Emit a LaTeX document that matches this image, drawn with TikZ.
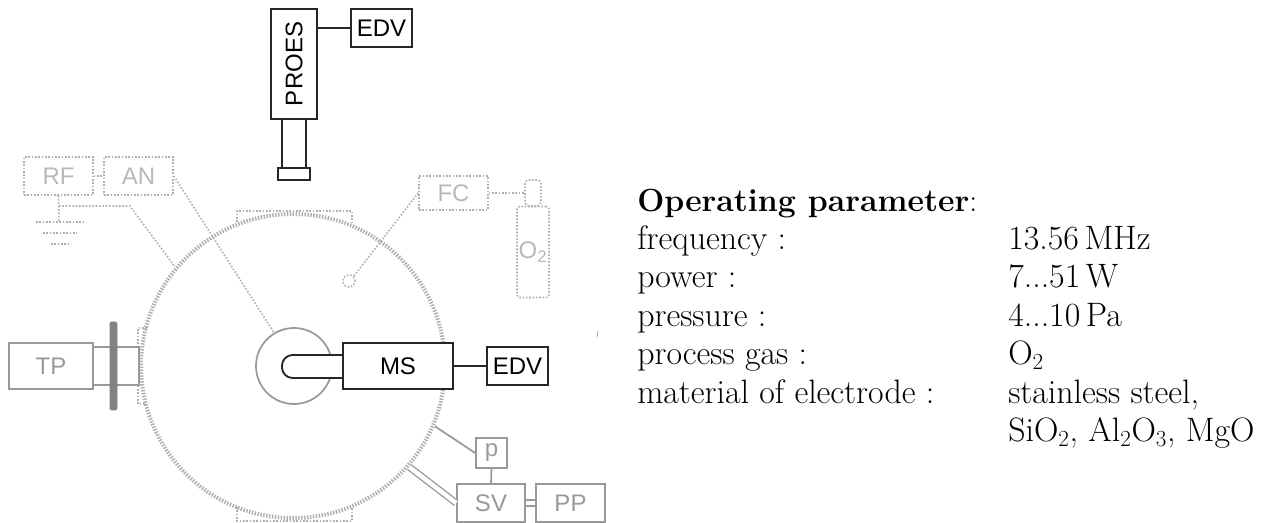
\documentclass[tikz,border=0pt]{standalone}
\usepackage{fontspec}
\setsansfont{Liberation Sans}
\def\px{0.75pt}
\definecolor{dotgray}{HTML}{B0B0B0}
\definecolor{midgray}{HTML}{999999}
\tikzset{
  label font/.style={font=\sffamily\fontsize{18}{21}\selectfont},
  dotbox/.style={draw=dotgray,line width=1.2pt,dash pattern=on 1.2pt off 1.3pt,text=dotgray!90!white,label font,inner sep=0pt},
  dotline/.style={draw=dotgray,line width=1.2pt,dash pattern=on 1.2pt off 1.3pt},
  graybox/.style={draw=midgray,line width=1.3pt,text=midgray,fill=white,label font,inner sep=0pt},
  grayline/.style={draw=midgray,line width=1.3pt},
  blackbox/.style={draw=black!85,line width=1.4pt,text=black,fill=white,label font,inner sep=0pt},
  blackline/.style={draw=black!85,line width=1.4pt},
  wall/.style={draw=dotgray,line width=3pt,dash pattern=on 1.1pt off 1.1pt},
  partext/.style={anchor=base west,inner sep=0pt,font=\fontsize{25.4}{30}\selectfont},
}
\begin{document}
\begin{tikzpicture}[x=\px,y=-\px]
\useasboundingbox (0,0) rectangle (1274,523);
% chamber
\node[circle,wall,minimum size=304*\px,inner sep=0pt] (chamber) at (293,366) {};
\draw[dotline,line width=1.8pt] (237,222) |- (352,211) -- (352,225);
\draw[dotline,line width=1.8pt] (237,507) |- (352,521) -- (352,507);
\draw[dotline,line width=1.8pt] (147,328) -| (138,404) -- (146,404);
\node[circle,grayline,fill=white,minimum size=76*\px,inner sep=0pt] (sample) at (294,366) {};
% pumps
\node[graybox,minimum width=84*\px,minimum height=46*\px] (TP) at (51,366) {TP};
\node[graybox,minimum width=46*\px,minimum height=38*\px] (pipe) at (116,366) {};
\node[draw=midgray!85!black,fill=midgray!85!black,rounded corners=1pt,minimum width=7*\px,minimum height=88*\px,inner sep=0pt] (plate) at (113.500,366) {};
\node[graybox,minimum width=31*\px,minimum height=30*\px] (p) at (491.500,453) {p};
\node[graybox,minimum width=68*\px,minimum height=38*\px] (SV) at (491,503) {SV};
\node[graybox,minimum width=69*\px,minimum height=38*\px] (PP) at (570.500,503) {PP};
\draw[grayline] (chamber.-23.5) -- (p.west);
\draw[grayline] (p.south) -- (SV.north);
\draw[grayline,double=white,double distance=3.4pt,line width=1pt] (chamber.-41) -- (SV.west);
\draw[grayline,double=white,double distance=3.4pt,line width=1pt] (SV.east) -- (PP.west);
% rf part
\node[dotbox,minimum width=69*\px,minimum height=38*\px] (RF) at (58.500,176) {RF};
\node[dotbox,minimum width=69*\px,minimum height=38*\px] (AN) at (138.500,176) {AN};
\coordinate (RFbend) at (59,206);
\coordinate (RFknee) at (130,206);
\coordinate (GNDa) at (59,222);
\draw[dotline] (RF) -- (AN);
\draw[dotline] (RF.south) -- (GNDa);
\draw[dotline] (RFbend) -- (RFknee) -- (chamber.140.5);
\draw[dotline] (36,222) -- (84,222);
\draw[dotline] (43,233) -- (77,233);
\draw[dotline] (51,244) -- (69,244);
\draw[dotline] (AN.east) -- (sample.121);
% gas feed
\node[dotbox,minimum width=69*\px,minimum height=34*\px] (FC) at (453.500,193) {FC};
\node[circle,dotline,minimum size=12*\px,inner sep=0pt] (inlet) at (349,281) {};
\node[dotbox,rounded corners=2pt,minimum width=32*\px,minimum height=91*\px] (O2) at (533,252) {O\textsubscript{2}};
\node[dotbox,rounded corners=3pt,minimum width=16*\px,minimum height=26*\px] (valve) at (533,193) {};
\draw[dotline] (FC.west) -- (inlet.north east);
\draw[dotline] (FC.east) -- (valve.west);
% mass spectrometer
\draw[blackline,fill=white,rounded corners=8pt] (343,355) -- (282,355) -- (282,378) -- (343,378);
\node[blackbox,minimum width=110*\px,minimum height=46*\px] (MS) at (398,366) {MS};
\node[blackbox,minimum width=61*\px,minimum height=38*\px] (EDVa) at (517.500,366) {EDV};
\draw[blackline] (MS.east) -- (EDVa.west);
% optical emission
\node[blackbox,minimum width=46*\px,minimum height=110*\px] (PROES) at (294,64) {};
\node[label font,rotate=90,inner sep=0pt] (PROEStext) at (294,64) {PROES};
\node[blackbox,minimum width=32*\px,minimum height=12*\px] (foot) at (294,174) {};
\draw[blackline] (282,119) -- (282,168);
\draw[blackline] (306,119) -- (306,168);
\node[blackbox,minimum width=61*\px,minimum height=38*\px] (EDVb) at (381.500,28) {EDV};
\draw[blackline] (PROES.east |- EDVb.west) -- (EDVb.west);
% small mark
\draw[draw=midgray,line width=0.5pt] (597,337) -- (598,331);
% parameters
\node[partext,font=\fontsize{24}{30}\selectfont] (head) at (637,212) {\textbf{Operating parameter}:};
\node[partext] (freq) at (637,250) {frequency :};
\node[partext] (powr) at (637,288) {power :};
\node[partext] (pres) at (637,327) {pressure :};
\node[partext] (gas) at (637,365) {process gas :};
\node[partext] (elec) at (637,404) {material of electrode :};
\node[partext] (freqv) at (1008,250) {13.56\,MHz};
\node[partext] (powrv) at (1008,288) {7...51\,W};
\node[partext] (presv) at (1008,327) {4...10\,Pa};
\node[partext] (gasv) at (1008,365) {O$_2$};
\node[partext] (elecv) at (1008,404) {stainless steel,};
\node[partext] (elecw) at (1008,442) {SiO$_2$, Al$_2$O$_3$, MgO};
\end{tikzpicture}
\end{document}
